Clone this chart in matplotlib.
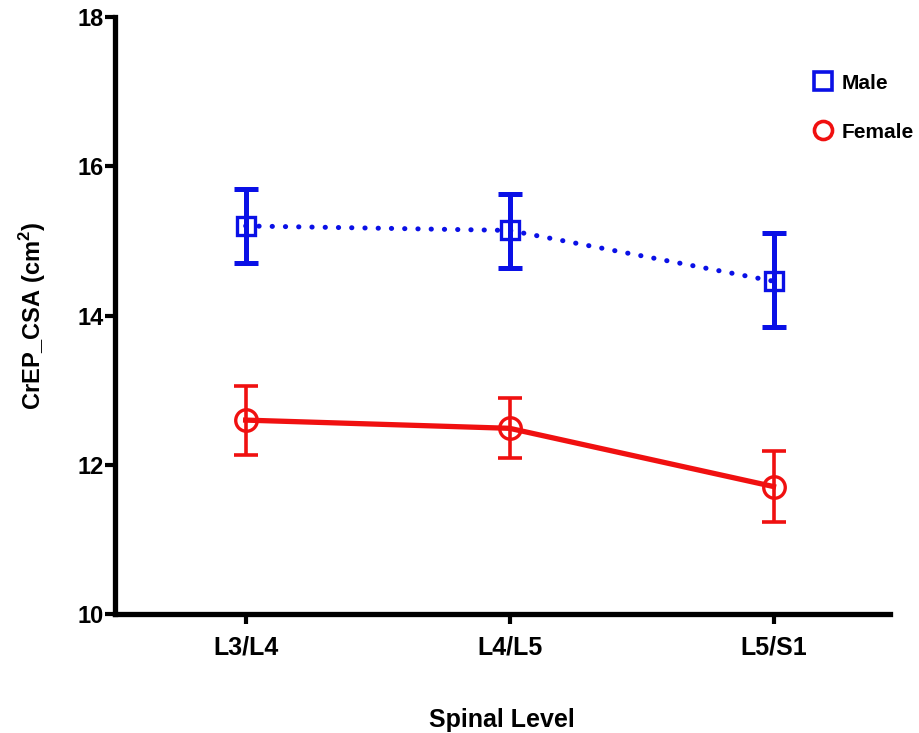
import matplotlib
matplotlib.use("Agg")
import matplotlib.pyplot as plt
from matplotlib.lines import Line2D

plt.rcParams['font.family'] = ['Liberation Sans', 'DejaVu Sans']
plt.rcParams['font.weight'] = 'bold'
plt.rcParams['mathtext.fontset'] = 'custom'
plt.rcParams['mathtext.rm'] = 'Liberation Sans:bold'
plt.rcParams['mathtext.bf'] = 'Liberation Sans:bold'

levels = ["L3/L4", "L4/L5", "L5/S1"]
male_mean = [15.20, 15.14, 14.46]
male_upper = [15.69, 15.63, 15.11]
male_lower = [14.70, 14.64, 13.85]
female_mean = [12.60, 12.49, 11.71]
female_upper = [13.05, 12.90, 12.18]
female_lower = [12.13, 12.09, 11.24]

x = list(range(len(levels)))

fig = plt.figure(figsize=(9.2, 7.33), dpi=100)
ax = fig.add_axes([0.125, 0.162, 0.842, 0.815])

male_err = [[m - lo for m, lo in zip(male_mean, male_lower)],
            [hi - m for m, hi in zip(male_mean, male_upper)]]
female_err = [[m - lo for m, lo in zip(female_mean, female_lower)],
              [hi - m for m, hi in zip(female_mean, female_upper)]]

blue = "#0a10e6"
red = "#f01010"

# Male: dotted line with open squares
ax.plot(x, male_mean, linestyle=(0, (0.05, 2.6)), dash_capstyle='round',
        color=blue, lw=3.6, zorder=2)
ax.errorbar(x, male_mean, yerr=male_err, fmt='none', ecolor=blue,
            elinewidth=3.6, capsize=8.5, capthick=3.6, zorder=3)
ax.plot(x, male_mean, 's', ms=13, mfc='none', mec=blue, mew=2.4, zorder=4)

# Female: solid line with open circles
ax.plot(x, female_mean, '-', color=red, lw=3.8, zorder=2)
ax.errorbar(x, female_mean, yerr=female_err, fmt='none', ecolor=red,
            elinewidth=2.6, capsize=8.5, capthick=2.6, zorder=3)
ax.plot(x, female_mean, 'o', ms=15.5, mfc='none', mec=red, mew=2.4, zorder=4)

ax.set_xlim(-0.495, 2.44)
ax.set_ylim(10, 18)
ax.set_yticks([10, 12, 14, 16, 18])
ax.set_xticks(x)
ax.set_xticklabels(levels)

for side in ('top', 'right'):
    ax.spines[side].set_visible(False)
for side in ('left', 'bottom'):
    ax.spines[side].set_linewidth(3.8)
    ax.spines[side].set_color('black')

ax.tick_params(axis='both', direction='out', length=7, width=3, colors='black')
ax.tick_params(axis='y', pad=1, labelsize=17)
ax.tick_params(axis='x', pad=8, labelsize=18)
for lbl in ax.get_xticklabels() + ax.get_yticklabels():
    lbl.set_fontweight('bold')

ax.set_xlabel("Spinal Level", fontsize=18, fontweight='bold', labelpad=35)
ax.set_ylabel(r"CrEP_CSA (cm$^{2}$)", fontsize=17, fontweight='bold', labelpad=21)

handles = [
    Line2D([], [], linestyle='none', marker='s', ms=13, mfc='none', mec=blue, mew=2.6),
    Line2D([], [], linestyle='none', marker='o', ms=13, mfc='none', mec=red, mew=2.6),
]
leg = fig.legend(handles, ["Male", "Female"], loc='upper left',
                 bbox_to_anchor=(0.872, 0.911), bbox_transform=fig.transFigure,
                 frameon=False, fontsize=15, labelspacing=1.45,
                 handletextpad=0.3, handlelength=1.2, borderaxespad=0)
for t in leg.get_texts():
    t.set_fontweight('bold')

fig.savefig("out.png", dpi=100, facecolor='white')
